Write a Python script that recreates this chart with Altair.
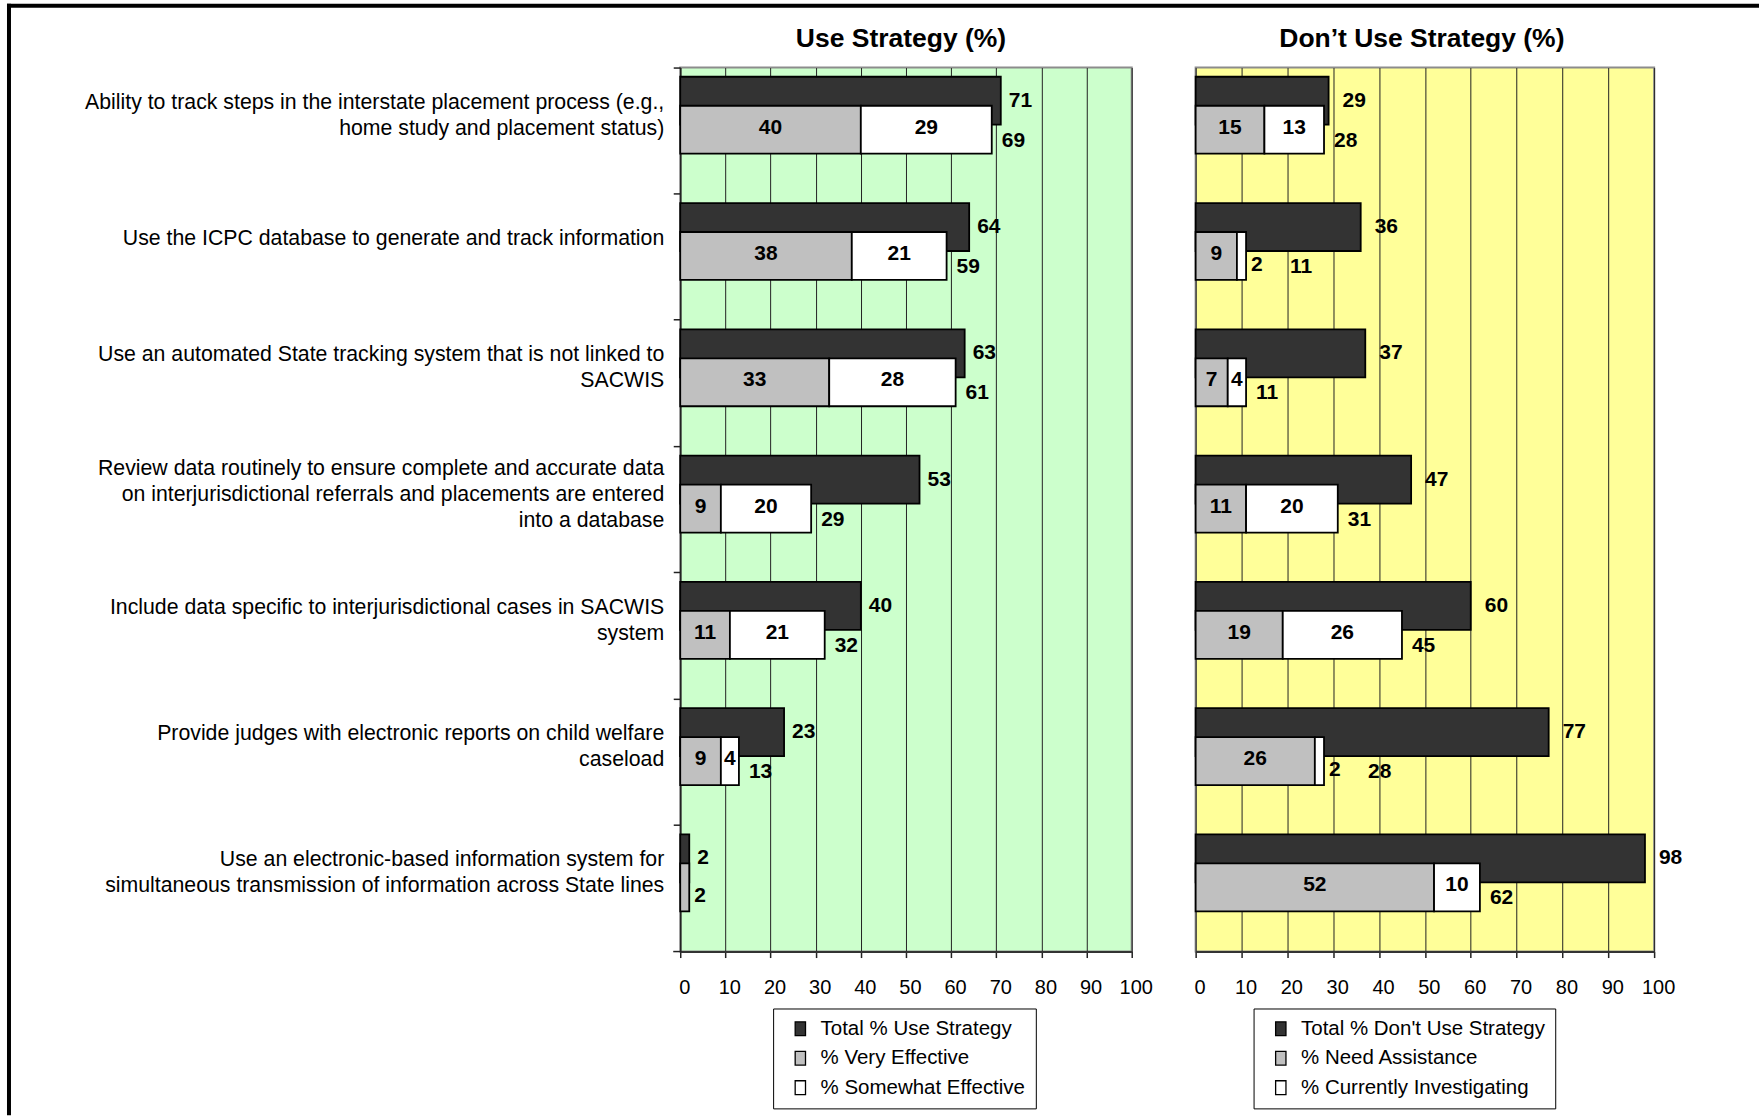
import altair as alt
import pandas as pd

FONT = "Liberation Sans"

categories = [
    "Ability to track steps in the interstate placement process (e.g.,\nhome study and placement status)",
    "Use the ICPC database to generate and track information",
    "Use an automated State tracking system that is not linked to\nSACWIS",
    "Review data routinely to ensure complete and accurate data\non interjurisdictional referrals and placements are entered\ninto a database",
    "Include data specific to interjurisdictional cases in SACWIS\nsystem",
    "Provide judges with electronic reports on child welfare\ncaseload",
    "Use an electronic-based information system for\nsimultaneous transmission of information across State lines",
]

use_total = [71, 64, 63, 53, 40, 23, 2]
use_very = [40, 38, 33, 9, 11, 9, 2]
use_somewhat = [29, 21, 28, 20, 21, 4, 0]

dont_total = [29, 36, 37, 47, 60, 77, 98]
dont_need = [15, 9, 7, 11, 19, 26, 52]
dont_investigating = [13, 2, 4, 20, 26, 2, 10]

use_series = ["Total % Use Strategy", "% Very Effective", "% Somewhat Effective"]
dont_series = ["Total % Don't Use Strategy", "% Need Assistance", "% Currently Investigating"]

panel_titles = ["Use Strategy (%)", "Don’t Use Strategy (%)"]
tick_values = list(range(0, 101, 10))
series_colors = ["#333333", "#C0C0C0", "#FFFFFF"]

PLOT_H = 885
BAR_H = 48
LINE_H = 26
# upright rectangle used as the legend swatch
SWATCH = "M-0.75,-1H0.75V1H-0.75Z"


def build_frames(total, first, second, names):
    bars, segs, stacks = [], [], []
    for cat, t, a, b in zip(categories, total, first, second):
        bars.append(dict(cat=cat, series=names[0], x0=0, x1=t, value=t, role="total"))
        for name, lo, v in ((names[1], 0, a), (names[2], a, b)):
            if v > 0:
                bars.append(dict(cat=cat, series=name, x0=lo, x1=lo + v, value=v, role="seg"))
                segs.append(dict(cat=cat, value=v, mid=lo + v / 2, end=a + b,
                                 inside=v >= 4))
        nonzero = sum(1 for v in (a, b) if v > 0)
        small = any(0 < v < 4 for v in (a, b))
        stacks.append(dict(cat=cat, end=a + b, show=nonzero >= 2, shifted=small))
    return pd.DataFrame(bars), pd.DataFrame(segs), pd.DataFrame(stacks)


def panel(total, first, second, names, title, title_shift, fill, width, legend_x,
          total_dx, with_categories):
    bars, segs, stacks = build_frames(total, first, second, names)

    x_axis = alt.Axis(values=tick_values, title=None, grid=True, gridColor="#222222",
                      gridWidth=1, tickSize=6, tickColor="#222222", tickWidth=1.5,
                      domainColor="#333333", domainWidth=2, labelFontSize=20,
                      labelFont=FONT, labelColor="black", labelPadding=20,
                      labelOffset=4, labelFlush=False)
    x_scale = alt.Scale(domain=[0, 100], nice=False, zero=True)
    if with_categories:
        y_axis = alt.Axis(title=None, bandPosition=0, tickSize=7, tickColor="#222222",
                          tickWidth=1.5, domainColor="#222222", domainWidth=1.5,
                          labels=False, grid=False)
    else:
        y_axis = None

    def xq(field):
        return alt.X(f"{field}:Q", scale=x_scale, axis=x_axis, title=None)

    def yc():
        return alt.Y("cat:N", sort=categories, title=None,
                     scale=alt.Scale(paddingInner=0, paddingOuter=0), axis=y_axis)

    color = alt.Color("series:N", scale=alt.Scale(domain=names, range=series_colors),
                      legend=alt.Legend(orient="none", legendX=legend_x, legendY=942,
                                        title=None, direction="vertical",
                                        symbolType=SWATCH, symbolSize=190,
                                        symbolStrokeColor="black", symbolStrokeWidth=1.3,
                                        labelFontSize=20.5, labelFont=FONT,
                                        labelColor="black", labelLimit=500,
                                        strokeColor="black", fillColor="white",
                                        padding=10, rowPadding=8.5, symbolOffset=7,
                                        labelOffset=10))

    base = alt.Chart(bars)
    total_bars = base.transform_filter(alt.datum.role == "total").mark_bar(
        height=BAR_H, yOffset=-30, stroke="black", strokeWidth=1.8
    ).encode(x=xq("x0"), x2="x1", y=yc(), color=color)
    seg_bars = base.transform_filter(alt.datum.role == "seg").mark_bar(
        height=BAR_H, yOffset=-1, stroke="black", strokeWidth=1.8
    ).encode(x=xq("x0"), x2="x1", y=yc(), color=color)

    label_style = dict(fontSize=21, fontWeight="bold", font=FONT, color="black",
                       baseline="middle")
    total_text = base.transform_filter(alt.datum.role == "total").mark_text(
        align="left", dx=total_dx, dy=-30, **label_style
    ).encode(x=xq("x1"), y=yc(), text="value:Q")

    seg_base = alt.Chart(segs)
    inside_text = seg_base.transform_filter(alt.datum.inside).mark_text(
        align="center", dy=-3, **label_style
    ).encode(x=xq("mid"), y=yc(), text="value:Q")
    outside_text = seg_base.transform_filter(~alt.datum.inside).mark_text(
        align="left", dx=5, dy=8, **label_style
    ).encode(x=xq("end"), y=yc(), text="value:Q")

    stack_base = alt.Chart(stacks).transform_filter(alt.datum.show)
    stack_text = stack_base.transform_filter(~alt.datum.shifted).mark_text(
        align="left", dx=10, dy=10, **label_style
    ).encode(x=xq("end"), y=yc(), text="end:Q")
    stack_text_shifted = stack_base.transform_filter(alt.datum.shifted).mark_text(
        align="left", dx=44, dy=10, **label_style
    ).encode(x=xq("end"), y=yc(), text="end:Q")

    heading = alt.Chart(pd.DataFrame({"t": [title]})).mark_text(
        fontSize=26.5, fontWeight="bold", font=FONT, color="black",
        align="center", baseline="alphabetic"
    ).encode(x=alt.value(width / 2 + title_shift), y=alt.value(-21), text="t:N")

    layers = [total_bars, seg_bars, total_text, inside_text, outside_text,
              stack_text, stack_text_shifted, heading]

    if with_categories:
        # category names, right-aligned left of the axis; multi-line blocks
        # are lifted so each block sits a little above its band centre
        cat_df = pd.DataFrame({"cat": categories,
                               "lines": [c.count("\n") + 1 for c in categories]})
        for n in sorted(cat_df["lines"].unique()):
            n = int(n)
            lift = -18 - (n - 1) * LINE_H / 2 + (3 if n > 1 else 0)
            layers.append(
                alt.Chart(cat_df).transform_filter(alt.datum.lines == n).mark_text(
                    align="right", baseline="middle", lineBreak="\n",
                    lineHeight=LINE_H, fontSize=21.3, font=FONT, color="black",
                    dy=lift,
                ).encode(x=alt.value(-16), y=yc(), text="cat:N")
            )
        one = pd.DataFrame({"f": [0]})
        # closing tick at the foot of the category axis
        foot_tick = alt.Chart(one).mark_rule(color="#222222", strokeWidth=1.5).encode(
            x=alt.value(-7), x2=alt.value(0), y=alt.value(PLOT_H))
        # outer page frame: left edge and top edge
        frame_left = alt.Chart(one).mark_rule(color="black", strokeWidth=4).encode(
            x=alt.value(-672), y=alt.value(-64), y2=alt.value(1049))
        frame_top = alt.Chart(one).mark_rule(color="black", strokeWidth=4).encode(
            y=alt.value(-62), x=alt.value(-674), x2=alt.value(1080))
        layers += [foot_tick, frame_left, frame_top]

    return alt.layer(*layers).properties(
        width=width, height=PLOT_H,
        view=alt.ViewBackground(fill=fill, stroke="#8c8c8c", strokeWidth=2),
    )


left = panel(use_total, use_very, use_somewhat, use_series, panel_titles[0], -5,
             "#CCFFCC", 452, 93, 8, True)
right = panel(dont_total, dont_need, dont_investigating, dont_series, panel_titles[1], -3,
              "#FFFF99", 459, 58, 14, False)

chart = alt.hconcat(left, right, spacing=64, bounds="flush").resolve_scale(
    x="independent", y="independent", color="independent"
).resolve_legend(color="independent").properties(
    padding={"left": 4, "top": 0, "right": 0, "bottom": 0},
    background="white",
).configure(font=FONT)

chart.save("out.html", embed_options={"renderer": "svg", "actions": False})
